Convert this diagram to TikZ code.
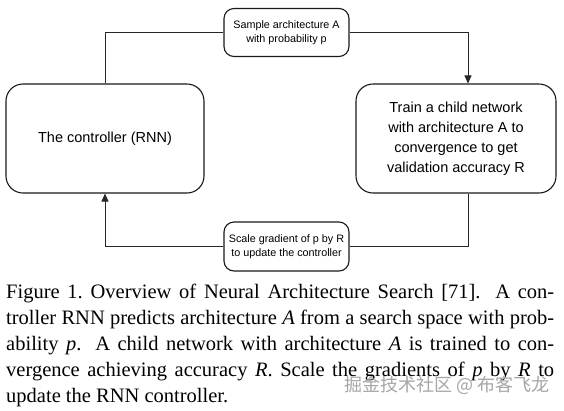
\documentclass[tikz,border=0pt]{standalone}
\usepackage{fontspec}
\setmainfont{Liberation Serif}
\newfontfamily\diagfont{Liberation Sans}
\newfontfamily\cjk{Noto Sans CJK SC}
\usetikzlibrary{arrows.meta}
\begin{document}
\begin{tikzpicture}[x=1pt,y=-1pt,
  bigbox/.style={draw=black!90, line width=1.1pt, rounded corners=17pt, align=center,
    font=\diagfont\fontsize{14.5}{20}\selectfont, inner sep=0pt},
  smallbox/.style={draw=black!90, line width=1.1pt, rounded corners=10pt, align=center,
    font=\diagfont\fontsize{10.8}{14}\selectfont, inner sep=0pt,
    minimum width=125pt},
  link/.style={draw=black!85, line width=0.9pt},
  arr/.style={link, -{Triangle[length=8pt,width=7pt]}}]
\useasboundingbox[fill=white] (0,0) rectangle (564,410);

\node[bigbox, minimum width=198pt, minimum height=109pt] (ctrl) at (105,138.5) {The controller (RNN)};
\node[bigbox, minimum width=200pt, minimum height=109pt] (train) at (456,138.5)
  {Train a child network\\with architecture A to\\convergence to get\\validation accuracy R};
\node[smallbox, minimum height=48pt] (sample) at (286.5,32.5) {Sample architecture A\\with probability p};
\node[smallbox, minimum height=49pt] (scale) at (286.5,246.5) {Scale gradient of p by R\\to update the controller};

\draw[link] (ctrl.north) |- (sample.west);
\draw[arr] (sample.east) -| ([xshift=12pt]train.north);
\draw[link] ([xshift=12pt]train.south) |- (scale.east);
\draw[arr] (scale.west) -| (ctrl.south);

\node[anchor=base west, inner sep=0pt, text width=548pt, align=justify,
  font=\fontsize{20.5}{26}\selectfont] (caption) at (6,298)
  {Figure 1.\ Overview of Neural Architecture Search [71].  A con-\linebreak
   troller RNN predicts architecture \textit{A} from a search space with prob-\linebreak
   ability \textit{p}.  A child network with architecture \textit{A} is trained to con-\linebreak
   vergence achieving accuracy \textit{R}.\ Scale the gradients of \textit{p} by \textit{R} to\linebreak
   update the RNN controller.};

\node[text=black!35, font=\cjk\fontsize{18}{19}\selectfont, inner sep=0pt] (wm) at (447,385)
  {掘金技术社区 @ 布客飞龙};
\end{tikzpicture}
\end{document}
